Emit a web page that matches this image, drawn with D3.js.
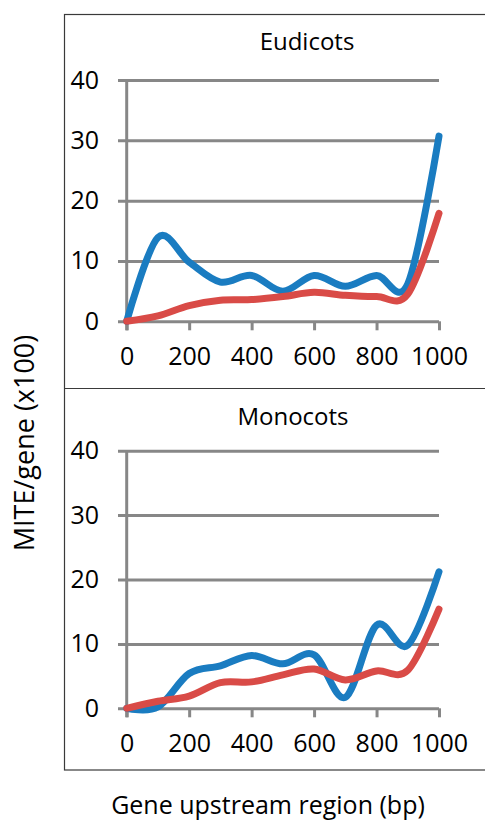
<!DOCTYPE html>
<html lang="en">
  <head>
    <meta charset="UTF-8" />
    <title>MITE per gene upstream</title>
    <script src="https://d3js.org/d3.v7.min.js"></script>
    <style>
      body {
        margin: 0;
        background: #fff;
      }
      text {
        font-family: "Open Sans", "Noto Sans", sans-serif;
        fill: #000;
      }
    </style>
  </head>
  <body>
    <div id="chart"></div>
    <script>
      // upstream positions (bp) and the two panels' series
      const positions = [0, 100, 200, 300, 400, 500, 600, 700, 800, 900, 1000];
      const xTicks = [0, 200, 400, 600, 800, 1000];
      const yTicks = [0, 10, 20, 30, 40];

      const eudicotsBlue = [0, 13.9, 9.8, 6.5, 7.6, 5.0, 7.6, 5.8, 7.6, 6.2, 30.7];
      const eudicotsRed = [0, 0.9, 2.6, 3.5, 3.6, 4.1, 4.8, 4.3, 4.1, 4.5, 17.9];
      const monocotsBlue = [0, 0.2, 5.4, 6.6, 8.2, 6.9, 8.3, 1.7, 12.9, 9.8, 21.2];
      const monocotsRed = [0, 1.1, 1.9, 4.0, 4.1, 5.2, 6.1, 4.4, 5.8, 5.9, 15.4];

      const width = 485;
      const height = 821;
      const blue = "#1a7cc1";
      const red = "#d94b47";
      const gridColor = "#878787";

      const svg = d3
        .select("#chart")
        .append("svg")
        .attr("width", width)
        .attr("height", height);

      // outer frame + separator between the panels
      svg
        .append("rect")
        .attr("x", 64.5)
        .attr("y", 14.5)
        .attr("width", 430)
        .attr("height", 755.5)
        .attr("fill", "none")
        .attr("stroke", "#3a3a3a")
        .attr("stroke-width", 1.2);
      svg
        .append("line")
        .attr("x1", 64.5)
        .attr("x2", width)
        .attr("y1", 388.5)
        .attr("y2", 388.5)
        .attr("stroke", "#3a3a3a")
        .attr("stroke-width", 1.2);

      const x = d3.scaleLinear().domain([0, 1000]).range([126.7, 439]);

      const panels = [
        {
          title: "Eudicots",
          titleX: 307,
          titleY: 50,
          y: d3.scaleLinear().domain([0, 40]).range([321.3, 80]),
          series: [
            { values: eudicotsBlue, color: blue },
            { values: eudicotsRed, color: red },
          ],
        },
        {
          title: "Monocots",
          titleX: 293,
          titleY: 425,
          y: d3.scaleLinear().domain([0, 40]).range([708.3, 450.7]),
          series: [
            { values: monocotsBlue, color: blue },
            { values: monocotsRed, color: red },
          ],
        },
      ];

      panels.forEach((p) => {
        const g = svg.append("g");
        const y0 = p.y(0);

        // gridlines + y labels
        const yAxis = g
          .append("g")
          .attr("transform", "translate(118,0)")
          .call(
            d3
              .axisLeft(p.y)
              .tickValues(yTicks)
              .tickSize(-(x(1000) - 118))
              .tickPadding(19)
          );
        yAxis.select(".domain").remove();
        yAxis
          .selectAll("line")
          .attr("stroke", gridColor)
          .attr("stroke-width", 3);
        yAxis
          .selectAll("text")
          .style("font-size", "25px")
          .attr("font-family", null);

        // vertical axis line
        g.append("line")
          .attr("x1", x(0))
          .attr("x2", x(0))
          .attr("y1", p.y(40))
          .attr("y2", y0 + 9)
          .attr("stroke", gridColor)
          .attr("stroke-width", 3);

        // x ticks + labels
        const xAxis = g
          .append("g")
          .attr("transform", `translate(0,${y0})`)
          .call(
            d3
              .axisBottom(x)
              .tickValues(xTicks)
              .tickFormat(d3.format("d"))
              .tickSize(9)
              .tickPadding(17)
          );
        xAxis.select(".domain").remove();
        xAxis
          .selectAll("line")
          .attr("stroke", gridColor)
          .attr("stroke-width", 3);
        xAxis
          .selectAll("text")
          .style("font-size", "25px")
          .attr("font-family", null);

        const line = d3
          .line()
          .x((d, i) => x(positions[i]))
          .y((d) => p.y(d))
          .curve(d3.curveCardinal.tension(0));

        p.series.forEach((s) => {
          g.append("path")
            .datum(s.values)
            .attr("d", line)
            .attr("fill", "none")
            .attr("stroke", s.color)
            .attr("stroke-width", 7)
            .attr("stroke-linecap", "round")
            .attr("stroke-linejoin", "round");
        });

        g.append("text")
          .attr("x", p.titleX)
          .attr("y", p.titleY)
          .attr("text-anchor", "middle")
          .style("font-size", "24px")
          .text(p.title);
      });

      // axis titles
      svg
        .append("text")
        .attr("transform", "translate(34,443) rotate(-90)")
        .attr("text-anchor", "middle")
        .style("font-size", "27px")
        .text("MITE/gene (x100)");

      svg
        .append("text")
        .attr("x", 268)
        .attr("y", 814)
        .attr("text-anchor", "middle")
        .style("font-size", "25px")
        .text("Gene upstream region (bp)");
    </script>
  </body>
</html>
